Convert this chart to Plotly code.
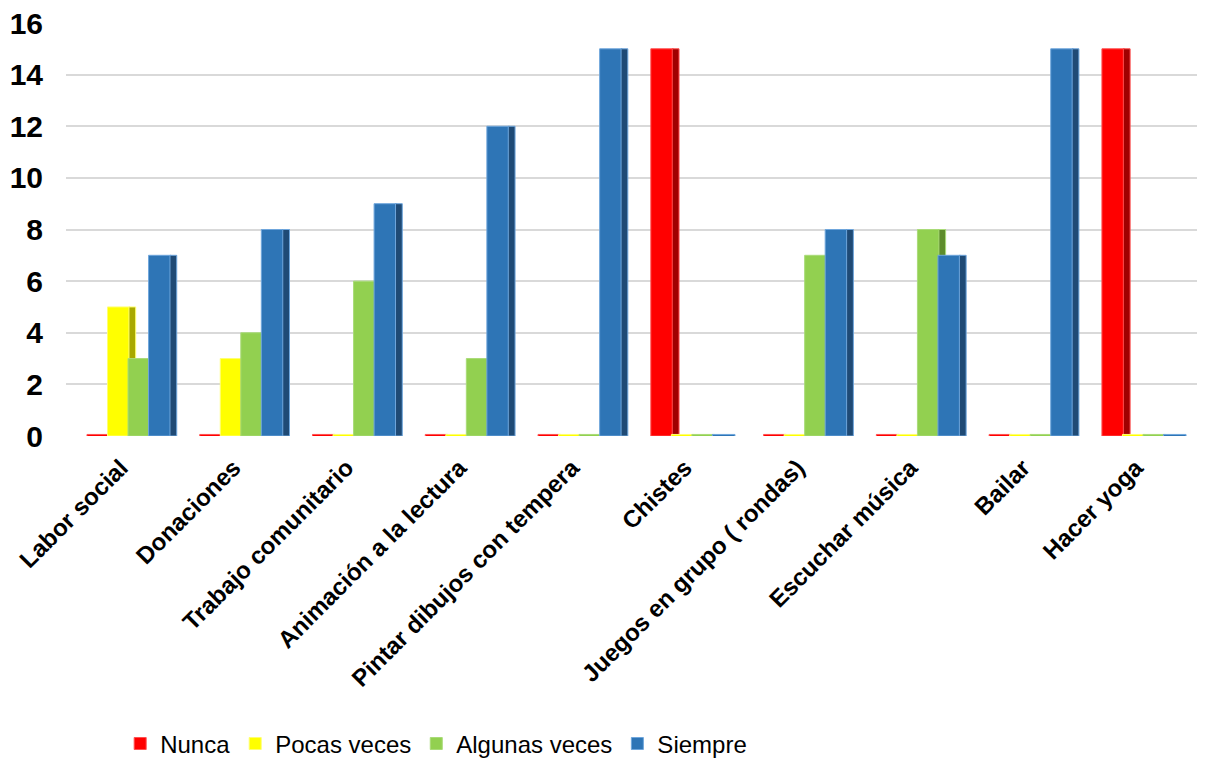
import plotly.graph_objects as go

categories = ["Labor social", "Donaciones", "Trabajo comunitario", "Animación a la lectura",
              "Pintar dibujos con tempera", "Chistes", "Juegos en grupo ( rondas)",
              "Escuchar música", "Bailar", "Hacer yoga"]
series_names = ["Nunca", "Pocas veces", "Algunas veces", "Siempre"]
nunca = [0, 0, 0, 0, 0, 15, 0, 0, 0, 15]
pocas_veces = [5, 3, 0, 0, 0, 0, 0, 0, 0, 0]
algunas_veces = [3, 4, 6, 3, 0, 0, 7, 8, 0, 0]
siempre = [7, 8, 9, 12, 15, 0, 8, 7, 15, 0]
y_ticks = [0, 2, 4, 6, 8, 10, 12, 14, 16]

series_values = [nunca, pocas_veces, algunas_veces, siempre]
front_colors = ["#FF0000", "#FFFF00", "#92D050", "#2E75B6"]
side_colors = ["#A00000", "#A8A800", "#5E8C2C", "#1F4A75"]
edge_colors = ["#FF5050", "#FFFF70", "#A9DB78", "#6FA6DC"]

FONT = "Arial, Liberation Sans, sans-serif"
STEP = 0.182
FRONT_W = 0.2
SIDE_W = 0.06
ZERO_STUB = 0.12

x = list(range(len(categories)))
fig = go.Figure()

for i, (name, vals) in enumerate(zip(series_names, series_values)):
    off = -2 * STEP + i * STEP
    heights = [v if v > 0 else ZERO_STUB for v in vals]
    bases = [0 if v > 0 else -ZERO_STUB / 2 for v in vals]
    fig.add_trace(go.Bar(
        x=x, y=heights, base=bases, name=name,
        offset=off, width=FRONT_W,
        marker=dict(color=front_colors[i], line=dict(color=edge_colors[i], width=1)),
        legendgroup=name, showlegend=True,
    ))
    side_h = [v if v > 0 else None for v in vals]
    fig.add_trace(go.Bar(
        x=x, y=side_h, base=[0] * len(vals), name=name,
        offset=off + FRONT_W - 0.01, width=SIDE_W,
        marker=dict(color=side_colors[i], line=dict(color=edge_colors[i], width=1)),
        legendgroup=name, showlegend=False,
    ))

fig.update_layout(
    width=1205, height=767,
    margin=dict(l=58, r=8, t=15, b=339),
    barmode="overlay",
    plot_bgcolor="white", paper_bgcolor="white",
    font=dict(family=FONT, color="#000000"),
    xaxis=dict(
        range=[-0.55, 9.55], tickmode="array", tickvals=x, ticktext=categories,
        tickangle=-45, tickfont=dict(family=FONT, size=24, weight="bold", color="#000000"),
        showgrid=False, zeroline=False, showline=False, ticks="", automargin=False,
        ticklabelstandoff=12, ticklabelshift=-7, ticklabeloverflow="allow",
    ),
    yaxis=dict(
        range=[0, 16], tickmode="array", tickvals=y_ticks,
        tickfont=dict(family=FONT, size=30, weight="bold", color="#000000"),
        showgrid=True, gridcolor="#D9D9D9", gridwidth=2,
        zeroline=False, showline=False, ticks="", ticklabelstandoff=22, automargin=False,
        ticklabeloverflow="allow",
    ),
    legend=dict(
        orientation="h", x=0.325, xanchor="center", y=-0.80, yanchor="bottom",
        font=dict(family=FONT, size=24, color="#000000"),
        traceorder="normal", itemwidth=30, bgcolor="rgba(0,0,0,0)",
    ),
    showlegend=True,
)

fig.write_html("out.html")
